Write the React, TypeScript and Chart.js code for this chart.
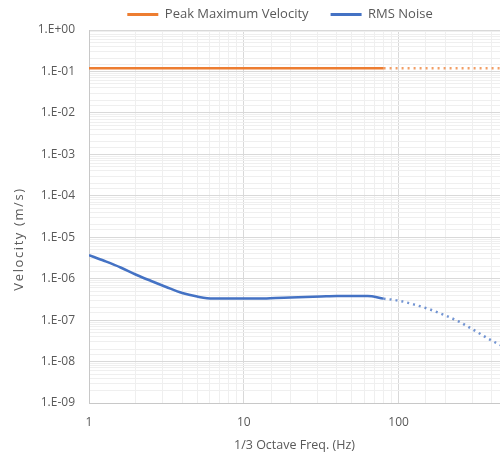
import React, { useEffect, useRef } from "react";
import { Chart, registerables } from "chart.js";

Chart.register(...registerables);

const freqs = [1, 1.25, 1.6, 2, 2.5, 3.15, 4, 5, 6.3, 8, 10, 12.5, 16, 20, 25, 31.5, 40, 50, 63, 80, 100, 125, 160, 200, 250, 315, 400, 500];
const peakVelocity = [0.12, 0.12, 0.12, 0.12, 0.12, 0.12, 0.12, 0.12, 0.12, 0.12, 0.12, 0.12, 0.12, 0.12, 0.12, 0.12, 0.12, 0.12, 0.12, 0.12, 0.12, 0.12, 0.12, 0.12, 0.12, 0.12, 0.12, 0.12];
const rmsNoise = [3.7e-6, 2.7e-6, 1.86e-6, 1.26e-6, 8.9e-7, 6.3e-7, 4.5e-7, 3.7e-7, 3.3e-7, 3.3e-7, 3.3e-7, 3.3e-7, 3.4e-7, 3.5e-7, 3.6e-7, 3.7e-7, 3.8e-7, 3.8e-7, 3.8e-7, 3.3e-7, 2.95e-7, 2.4e-7, 1.8e-7, 1.3e-7, 8.9e-8, 5.4e-8, 3.2e-8, 2.1e-8];
const measuredUpTo = 80; // solid up to this frequency, dotted beyond
const xMin = 1;
const xMax = 452;
const yMin = 1e-9;
const yMax = 1;
const seriesNames = ["Peak Maximum Velocity", "RMS Noise"];
const xTitle = "1/3 Octave Freq. (Hz)";
const yTitle = "Velocity (m/s)";

const FONT = "'Open Sans', 'Noto Sans', sans-serif";
const TXT = "#595959";
const LEGEND_PAD = 22;

function isPow10(v: number) {
  const l = Math.log10(v);
  return Math.abs(l - Math.round(l)) < 1e-9;
}

function yLabel(v: number) {
  const e = Math.round(Math.log10(v));
  const sign = e < 0 ? "-" : "+";
  const a = Math.abs(e);
  return "1.E" + sign + (a < 10 ? "0" + a : String(a));
}

const yTitlePlugin = {
  id: "yTitlePlugin",
  afterLayout(chart: any) {
    // centre the legend over the plot area and keep it near the top
    if (chart.legend) {
      chart.legend.left = 60;
      chart.legend.top = 8 - LEGEND_PAD;
    }
  },
  afterDraw(chart: any) {
    const ctx = chart.ctx;
    ctx.save();
    ctx.translate(19, 239);
    ctx.rotate(-Math.PI / 2);
    ctx.font = "13px " + FONT;
    try {
      (ctx as any).letterSpacing = "1.6px";
    } catch (e) {}
    ctx.fillStyle = TXT;
    ctx.textAlign = "center";
    ctx.textBaseline = "middle";
    ctx.fillText(yTitle, 0, 0);
    ctx.restore();
  },
};

export default function App() {
  const ref = useRef<HTMLCanvasElement | null>(null);
  useEffect(() => {
    if (!ref.current) return;
    const dotted = (color: string, dim: string) => ({
      borderDash: (ctx: any) => (freqs[ctx.p0DataIndex] >= measuredUpTo ? [2, 4] : undefined),
      borderColor: (ctx: any) => (freqs[ctx.p0DataIndex] >= measuredUpTo ? dim : color),
    });
    const chart = new Chart(ref.current, {
      type: "line",
      data: {
        datasets: [
          {
            label: seriesNames[0],
            data: freqs.map((f, i) => ({ x: f, y: peakVelocity[i] })),
            borderColor: "#ED7D31",
            backgroundColor: "#ED7D31",
            borderWidth: 2.5,
            pointRadius: 0,
            segment: dotted("#ED7D31", "rgba(237,125,49,0.75)"),
          },
          {
            label: seriesNames[1],
            data: freqs.map((f, i) => ({ x: f, y: rmsNoise[i] })),
            borderColor: "#4472C4",
            backgroundColor: "#4472C4",
            borderWidth: 2.5,
            pointRadius: 0,
            cubicInterpolationMode: "monotone",
            segment: dotted("#4472C4", "rgba(68,114,196,0.75)"),
          },
        ],
      },
      plugins: [yTitlePlugin],
      options: {
        animation: false,
        responsive: false,
        maintainAspectRatio: false,
        layout: { autoPadding: false, padding: 0 },
        plugins: {
          legend: {
            position: "top",
            maxHeight: 30,
            labels: {
              boxWidth: 31,
              boxHeight: 3,
              padding: LEGEND_PAD,
              color: TXT,
              font: { family: FONT, size: 13 },
              generateLabels: (c: any) =>
                (Chart as any).defaults.plugins.legend.labels
                  .generateLabels(c)
                  .map((l: any) => ({ ...l, lineWidth: 0 })),
            },
          },
          tooltip: { enabled: false },
        },
        scales: {
          x: {
            type: "logarithmic",
            min: xMin,
            max: xMax,
            afterFit: (s: any) => {
              s.height = 50;
              s.paddingLeft = 0;
              s.paddingRight = 0;
            },
            grid: {
              color: (ctx: any) => (ctx.tick && isPow10(ctx.tick.value) ? "#d9d9d9" : "#efefef"),
              lineWidth: 1,
              drawTicks: false,
            },
            border: { color: "#c8c8c8", width: 1 },
            ticks: {
              autoSkip: false,
              maxRotation: 0,
              padding: 12,
              color: TXT,
              font: { family: FONT, size: 12 },
              callback: (v: any) => (isPow10(Number(v)) ? String(Number(v)) : ""),
            },
            title: {
              display: true,
              text: xTitle,
              color: TXT,
              font: { family: FONT, size: 12.5 },
              padding: { top: 0, bottom: 0 },
            },
          },
          y: {
            type: "logarithmic",
            min: yMin,
            max: yMax,
            afterFit: (s: any) => {
              s.width = 89;
            },
            grid: {
              color: (ctx: any) => (ctx.tick && isPow10(ctx.tick.value) ? "#d9d9d9" : "#efefef"),
              lineWidth: 1,
              drawTicks: false,
            },
            border: { color: "#c8c8c8", width: 1 },
            ticks: {
              autoSkip: false,
              padding: 14,
              color: TXT,
              font: { family: FONT, size: 12 },
              callback: (v: any) => (isPow10(Number(v)) ? yLabel(Number(v)) : ""),
            },
            title: { display: false },
          },
        },
      },
    } as any);
    return () => chart.destroy();
  }, []);
  return (
    <div style={{ position: "absolute", left: 0, top: 0, width: 500, height: 453, background: "#fff" }}>
      <canvas ref={ref} width={500} height={453} />
    </div>
  );
}
